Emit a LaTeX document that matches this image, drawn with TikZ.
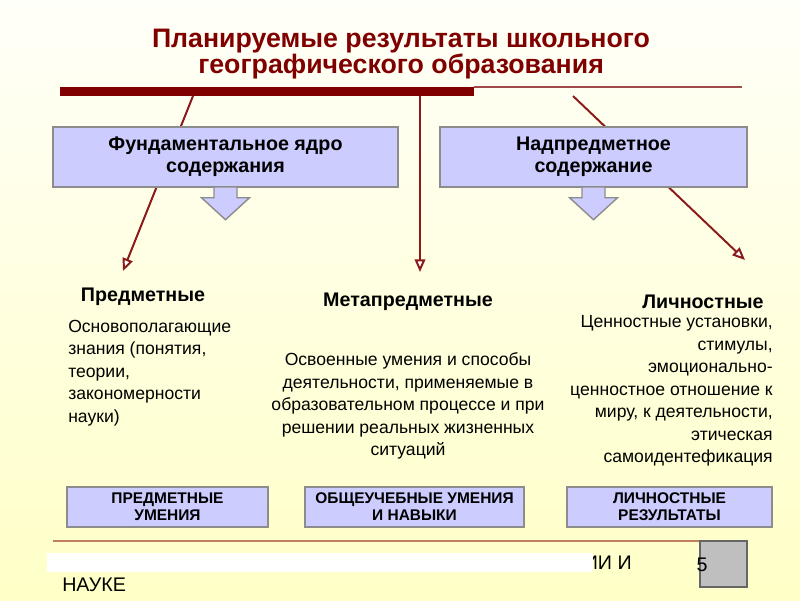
\documentclass[tikz,border=0pt]{standalone}
\usepackage{fontspec}
\setmainfont{Liberation Sans}
\usepackage{tikz}
\usetikzlibrary{positioning,arrows.meta,calc}
\definecolor{maroon}{HTML}{800000}
\definecolor{linkred}{HTML}{8B1A1A}
\definecolor{thinred}{HTML}{A04A4A}
\definecolor{boxblue}{HTML}{CCCCFF}
\definecolor{boxgray}{HTML}{8C8C8C}
\definecolor{footline}{HTML}{C08060}

\begin{document}
\begin{tikzpicture}[x=0.025cm, y=-0.025cm, font=\fontsize{12.5}{16}\selectfont,
  topbox/.style={draw=boxgray, line width=1pt, fill=boxblue, align=center, inner sep=0pt,
    minimum height=1.5cm, font=\fontsize{14}{15.6}\selectfont\bfseries},
  lowbox/.style={draw=boxgray, line width=1pt, fill=boxblue, align=center, inner sep=0pt,
    minimum height=1cm, font=\fontsize{11}{12}\selectfont\bfseries},
  link/.style={draw=linkred, line width=1.4pt, -{Triangle[length=9pt, width=7.5pt, fill=white]}},
  kind/.style={font=\fontsize{14}{15}\selectfont\bfseries},
  blockarrow/.style={draw=boxgray, line width=1pt, fill=boxblue}]
% background
\shade[top color=white!60!yellow!6, bottom color=yellow!22] (0,0) rectangle (800,600);
\useasboundingbox (0,0) rectangle (800,600);
% title
\node[text=maroon, align=center, font=\fontsize{19}{17.5}\selectfont\bfseries] (title) at (401,54)
  {Планируемые результаты школьного\\географического образования};
% top bar
\fill[maroon] (60,87) rectangle (474,96);
\draw[thinred, line width=0.8pt] (474,87) -- (742,87);
\coordinate (barL) at (193,96);
\coordinate (barM) at (420,96);
\coordinate (barR) at (573,96);
\coordinate (tipL) at (123,271);
\coordinate (tipM) at (420,272);
\coordinate (tipR) at (745,260);
\draw[link] (barL) -- (tipL);
\draw[link] (barM) -- (tipM);
\draw[link] (barR) -- (tipR);
% content boxes with block arrows
\node[topbox, minimum width=8.625cm] (fund) at (225.5,157) {Фундаментальное ядро\\содержания};
\node[topbox, minimum width=7.675cm] (meta) at (593.5,157) {Надпредметное\\содержание};
\foreach \b in {fund,meta}
  \draw[blockarrow] ($(\b.south)+(-11.5,0)$) -- ++(0,10) -- ++(-12.5,0) -- ++(24,22)
    -- ++(24,-22) -- ++(-12.5,0) -- ++(0,-10);
% three kinds of results
\node[kind] (pred) at (143,297) {Предметные};
\node[kind] (metap) at (408,302) {Метапредметные};
\node[kind] (lich) at (703,302) {Личностные};
\node[align=left, anchor=west, inner sep=0pt] (predtxt) at (68,373)
  {Основополагающие\\знания (понятия,\\теории,\\закономерности\\науки)};
\node[align=center, inner sep=0pt] (metatxt) at (408,406)
  {Освоенные умения и способы\\деятельности, применяемые в\\образовательном процессе и при\\решении реальных жизненных\\ситуаций};
\node[align=right, anchor=east, inner sep=0pt] (lichtxt) at (773,391)
  {Ценностные установки,\\стимулы,\\эмоционально-\\ценностное отношение к\\миру, к деятельности,\\этическая\\самоидентефикация};
% outcome boxes
\node[lowbox, minimum width=5.025cm] (umen) at (167.5,507) {ПРЕДМЕТНЫЕ\\УМЕНИЯ};
\node[lowbox, minimum width=5.475cm] (navyk) at (414.5,507) {ОБЩЕУЧЕБНЫЕ УМЕНИЯ\\И НАВЫКИ};
\node[lowbox, minimum width=5.125cm] (resul) at (669.5,507) {ЛИЧНОСТНЫЕ\\РЕЗУЛЬТАТЫ};
% footer
\draw[footline, line width=2pt] (53,541) -- (700,541);
\draw[fill=black!25, draw=black!60, line width=0.8pt] (700,541) rectangle (747,587);
\node[anchor=east, inner sep=0pt, font=\fontsize{14}{16}\selectfont] (ii) at (632,563) {ИИ И};
\fill[white] (47,553) rectangle (593,572);
\node[inner sep=0pt, font=\fontsize{14}{16}\selectfont] (pnum) at (702,565) {5};
\node[anchor=west, inner sep=0pt, font=\fontsize{14}{16}\selectfont] (nauke) at (62,585) {НАУКЕ};
\end{tikzpicture}
\end{document}
